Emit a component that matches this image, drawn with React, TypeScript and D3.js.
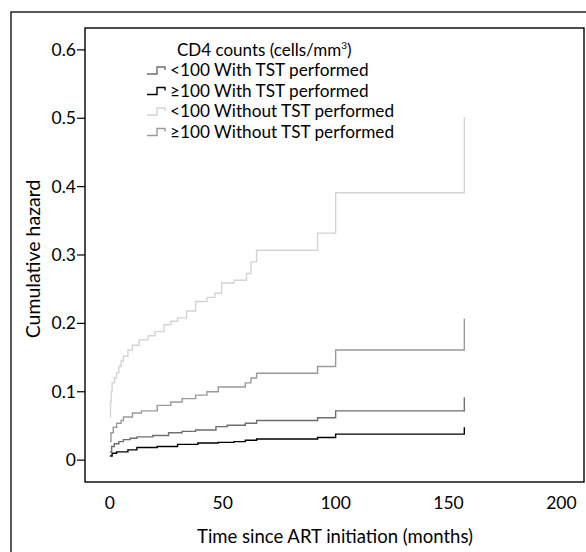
import React from 'react';
import * as d3 from 'd3';

// step data: [months, cumulative hazard]
const lowNoTst: [number, number][] = [
  [0, 0.063], [0.3, 0.085], [0.6, 0.1], [1, 0.113], [2, 0.12], [3, 0.128], [4, 0.137],
  [5, 0.145], [6, 0.152], [8, 0.161], [10, 0.168], [13, 0.176], [17, 0.182], [20, 0.188],
  [24, 0.198], [27, 0.203], [30, 0.208], [34, 0.218], [38, 0.232], [43, 0.238], [46.5, 0.244],
  [49.5, 0.259], [55, 0.263], [60.5, 0.273], [62.5, 0.29], [65, 0.307], [92, 0.332],
  [100, 0.391], [157, 0.391], [157, 0.502],
];
const highNoTst: [number, number][] = [
  [0, 0.027], [0.5, 0.04], [1.5, 0.048], [3, 0.054], [5, 0.058], [6, 0.063], [10, 0.069],
  [14, 0.072], [21, 0.08], [27, 0.085], [32, 0.09], [38, 0.095], [43, 0.1], [48, 0.107],
  [60, 0.113], [62.5, 0.12], [65, 0.127], [92, 0.137], [100, 0.161], [157, 0.161], [157, 0.207],
];
const lowTst: [number, number][] = [
  [0, 0.012], [0.8, 0.02], [2, 0.024], [4, 0.027], [6, 0.03], [9, 0.032], [12, 0.034],
  [19, 0.036], [26, 0.04], [32, 0.042], [38, 0.044], [47, 0.049], [52, 0.051], [60, 0.054],
  [65, 0.058], [92, 0.062], [100, 0.072], [157, 0.072], [157, 0.092],
];
const highTst: [number, number][] = [
  [0, 0.006], [1, 0.01], [3, 0.012], [8, 0.015], [12, 0.0185], [21, 0.02], [30, 0.023],
  [39, 0.025], [48, 0.026], [55, 0.027], [60, 0.029], [65, 0.031], [92, 0.033], [100, 0.038],
  [157, 0.038], [157, 0.048],
];

const legendLabels = [
  '<100 With TST performed',
  '\u2265100 With TST performed',
  '<100 Without TST performed',
  '\u2265100 Without TST performed',
];
const legendColors = ['#6e6e6e', '#000000', '#d4d4d4', '#9a9a9a'];
const xTicks = [0, 50, 100, 150, 200];
const yTicks = [0, 0.1, 0.2, 0.3, 0.4, 0.5, 0.6];

const font = 'Lato, "Open Sans", sans-serif';

export default function App() {
  const W = 586, H = 552;
  const box = { l: 85, t: 28, r: 584, b: 482 };
  const x = d3.scaleLinear().domain([-11, 210]).range([box.l, box.r]);
  const y = d3.scaleLinear().domain([-0.032, 0.632]).range([box.b, box.t]);
  const line = d3.line<[number, number]>()
    .x(d => x(d[0]))
    .y(d => y(d[1]))
    .curve(d3.curveStepAfter);

  const series = [
    { data: lowNoTst, color: legendColors[2] },
    { data: highNoTst, color: legendColors[3] },
    { data: lowTst, color: legendColors[0] },
    { data: highTst, color: legendColors[1] },
  ];

  const fmt = (v: number) => (v === 0 ? '0' : d3.format('.1f')(v));

  return (
    <div style={{ position: 'fixed', left: 0, top: 0 }}>
      <svg width={W} height={H} style={{ display: 'block', background: '#fff' }}>
        {/* outer frame, cut off at the right and bottom */}
        <rect x={11} y={12} width={W} height={H} fill="none" stroke="#000" strokeWidth={1.3} />
        {/* plot box */}
        <rect x={box.l} y={box.t} width={box.r - box.l} height={box.b - box.t}
          fill="none" stroke="#000" strokeWidth={1.4} />

        {yTicks.map(t => (
          <g key={t}>
            <line x1={box.l - 8} x2={box.l} y1={y(t)} y2={y(t)} stroke="#000" strokeWidth={1.2} />
            <text x={box.l - 9} y={y(t)} dy="0.35em" textAnchor="end"
              fontFamily={font} fontSize={17.5} fill="#000">{fmt(t)}</text>
          </g>
        ))}
        {xTicks.map(t => (
          <text key={t} x={x(t)} y={509} textAnchor="middle"
            fontFamily={font} fontSize={17.5} fill="#000">{t}</text>
        ))}

        <text x={335} y={543} textAnchor="middle" fontFamily={font} fontSize={18.5} fill="#000">
          Time since ART initiation (months)
        </text>
        <text transform={`translate(40,${259}) rotate(-90)`} textAnchor="middle"
          fontFamily={font} fontSize={19.5} fill="#000">
          Cumulative hazard
        </text>

        {series.map((s, i) => (
          <path key={i} d={line(s.data) || ''} fill="none" stroke={s.color} strokeWidth={1.4} />
        ))}

        {/* legend */}
        <text x={177} y={56} fontFamily={font} fontSize={17} fill="#000">
          CD4 counts (cells/mm<tspan dy={-7} fontSize={10}>3</tspan><tspan dy={7}>)</tspan>
        </text>
        {legendLabels.map((lab, i) => {
          const cy = 70 + i * 20.5;
          return (
            <g key={lab}>
              <path d={`M147,${cy + 4}H157V${cy - 3}H165V${cy}`} fill="none"
                stroke={legendColors[i]} strokeWidth={1.4} />
              <text x={170} y={cy} dy="0.35em" fontFamily={font} fontSize={17.2} fill="#000">{lab}</text>
            </g>
          );
        })}
      </svg>
    </div>
  );
}
